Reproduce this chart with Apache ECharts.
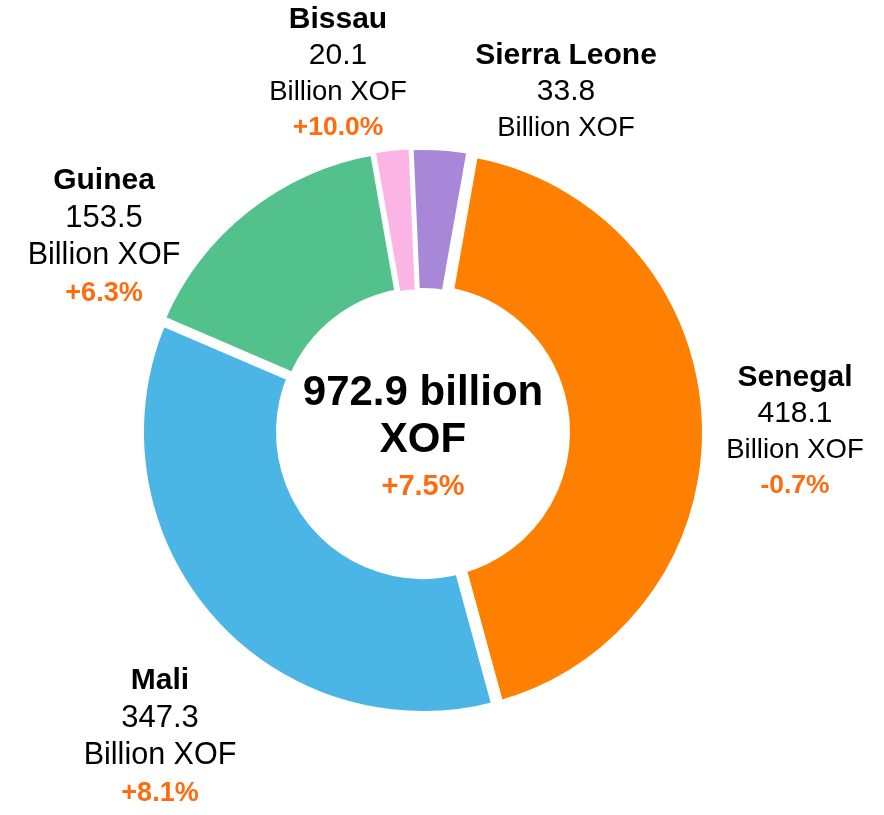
<!DOCTYPE html>
<html>
<head>
<meta charset="utf-8">
<style>
  html, body { margin: 0; padding: 0; background: #ffffff; }
  #chart { width: 884px; height: 815px; }
</style>
<script src="https://cdn.jsdelivr.net/npm/echarts@6/dist/echarts.min.js"></script>
</head>
<body>
<div id="chart"></div>
<script>
// Country shares, listed clockwise from the top of the ring
const categories = ['Sierra Leone', 'Senegal', 'Mali', 'Guinea', 'Bissau'];
const values = [33.8, 418.1, 347.3, 153.5, 20.1];
const changes = [null, '-0.7%', '+8.1%', '+6.3%', '+10.0%'];
const unit = 'Billion XOF';
const totalLines = ['972.9 billion', 'XOF'];
const totalChange = '+7.5%';

const colors = ['#a887d9', '#ff7f00', '#4bb5e6', '#52c18b', '#fbb5e4'];
const changeColor = '#ff6b0f';
const FONT = '"Liberation Sans", Arial, sans-serif';

// Ring geometry (px)
const CX = 423, CY = 432;
// White separator width around each slice (wider on the big slices)
const separatorWidths = [6, 12, 12, 8, 4];

// Where each label block sits, as offsets from the ring centre
const labelOffsets = [[143, -340], [372, 0], [-263, 305], [-319, -195], [-85, -358]];
// Guinea and Mali use the larger label style
const labelStyleKey = ['s', 's', 'b', 'b', 's'];

const richStyles = {
  sn: { fontFamily: FONT, fontSize: 30, fontWeight: 'bold', color: '#000', lineHeight: 36 },
  sv: { fontFamily: FONT, fontSize: 30, color: '#000', lineHeight: 36 },
  su: { fontFamily: FONT, fontSize: 27.5, color: '#000', lineHeight: 36 },
  sp: { fontFamily: FONT, fontSize: 26.5, fontWeight: 'bold', color: changeColor, lineHeight: 36 },
  bn: { fontFamily: FONT, fontSize: 30, fontWeight: 'bold', color: '#000', lineHeight: 37.5 },
  bv: { fontFamily: FONT, fontSize: 31, color: '#000', lineHeight: 37.5 },
  bu: { fontFamily: FONT, fontSize: 30.5, color: '#000', lineHeight: 37.5 },
  bp: { fontFamily: FONT, fontSize: 27, fontWeight: 'bold', color: changeColor, lineHeight: 37.5 }
};

const chart = echarts.init(document.getElementById('chart'), null, { renderer: 'canvas' });

const data = categories.map((name, i) => ({
  name: name,
  value: values[i],
  itemStyle: { color: colors[i], borderWidth: separatorWidths[i] }
}));

chart.setOption({
  backgroundColor: '#ffffff',
  animation: false,
  series: [{
    type: 'pie',
    center: [CX, CY],
    radius: [141, 285],
    startAngle: 92.5,
    clockwise: true,
    avoidLabelOverlap: false,
    itemStyle: { borderColor: '#ffffff', borderJoin: 'miter', borderMiterLimit: 4 },
    label: {
      show: true,
      position: 'outside',
      rich: richStyles,
      formatter: function (p) {
        const k = labelStyleKey[p.dataIndex];
        const lines = [
          '{' + k + 'n|' + p.name + '}',
          '{' + k + 'v|' + values[p.dataIndex].toFixed(1) + '}',
          '{' + k + 'u|' + unit + '}'
        ];
        const c = changes[p.dataIndex];
        if (c) lines.push('{' + k + 'p|' + c + '}');
        return lines.join('\n');
      }
    },
    labelLine: { show: false },
    labelLayout: function (p) {
      const o = labelOffsets[p.dataIndex];
      return { x: CX + o[0], y: CY + o[1], align: 'center', verticalAlign: 'middle' };
    },
    emphasis: { disabled: true },
    data: data
  }],
  graphic: [{
    type: 'text',
    x: CX,
    y: 440,
    style: {
      text: totalLines.map(t => '{t|' + t + '}').join('\n') + '\n{c|' + totalChange + '}',
      align: 'center',
      verticalAlign: 'middle',
      textAlign: 'center',
      textVerticalAlign: 'middle',
      rich: {
        t: { fontFamily: FONT, fontSize: 42, fontWeight: 'bold', fill: '#000', lineHeight: 47 },
        c: { fontFamily: FONT, fontSize: 29, fontWeight: 'bold', fill: changeColor, lineHeight: 47 }
      }
    }
  }]
});
</script>
</body>
</html>
